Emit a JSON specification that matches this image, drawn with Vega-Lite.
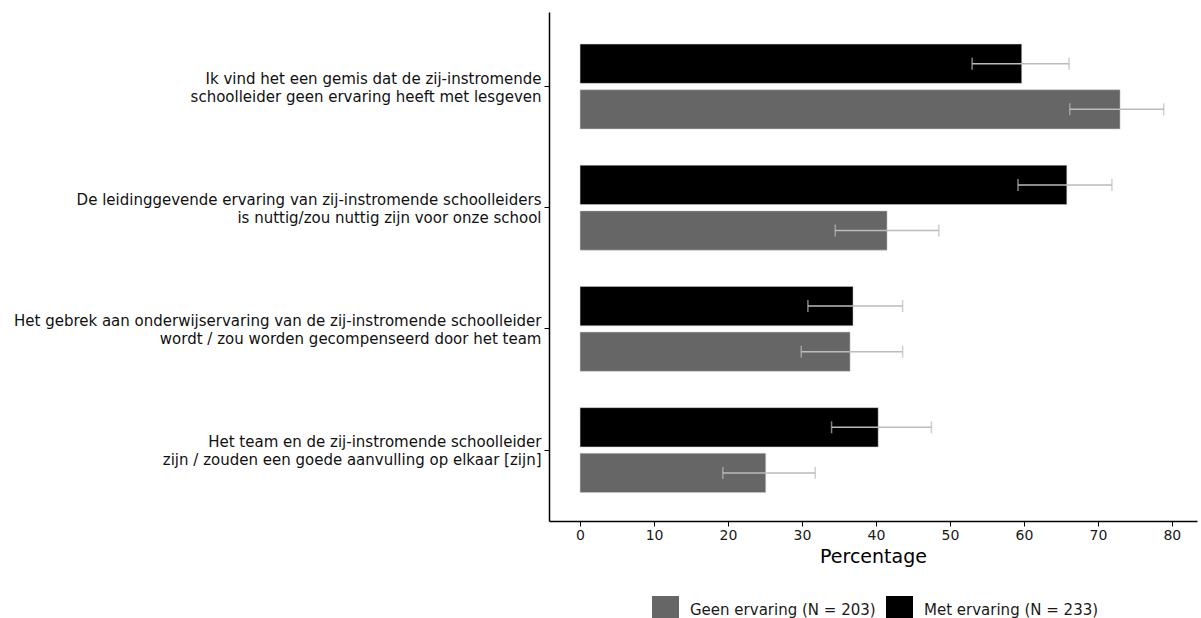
{
  "$schema": "https://vega.github.io/schema/vega-lite/v6.json",
  "width": 648,
  "height": 509,
  "autosize": {"type": "none"},
  "padding": {"left": 549, "top": 12, "right": 4, "bottom": 97},
  "background": "white",
  "config": {
    "font": "DejaVu Sans",
    "view": {"stroke": null}
  },
  "data": {
    "values": [
      {"item": "Ik vind het een gemis dat de zij-instromende|schoolleider geen ervaring heeft met lesgeven", "group": "Met ervaring (N = 233)", "value": 59.7, "lo": 53.0, "hi": 66.1},
      {"item": "Ik vind het een gemis dat de zij-instromende|schoolleider geen ervaring heeft met lesgeven", "group": "Geen ervaring (N = 203)", "value": 73.0, "lo": 66.2, "hi": 78.9},
      {"item": "De leidinggevende ervaring van zij-instromende schoolleiders|is nuttig/zou nuttig zijn voor onze school", "group": "Met ervaring (N = 233)", "value": 65.8, "lo": 59.2, "hi": 71.9},
      {"item": "De leidinggevende ervaring van zij-instromende schoolleiders|is nuttig/zou nuttig zijn voor onze school", "group": "Geen ervaring (N = 203)", "value": 41.5, "lo": 34.5, "hi": 48.5},
      {"item": "Het gebrek aan onderwijservaring van de zij-instromende schoolleider|wordt / zou worden gecompenseerd door het team", "group": "Met ervaring (N = 233)", "value": 36.9, "lo": 30.8, "hi": 43.6},
      {"item": "Het gebrek aan onderwijservaring van de zij-instromende schoolleider|wordt / zou worden gecompenseerd door het team", "group": "Geen ervaring (N = 203)", "value": 36.5, "lo": 29.9, "hi": 43.6},
      {"item": "Het team en de zij-instromende schoolleider|zijn / zouden een goede aanvulling op elkaar [zijn]", "group": "Met ervaring (N = 233)", "value": 40.3, "lo": 34.0, "hi": 47.5},
      {"item": "Het team en de zij-instromende schoolleider|zijn / zouden een goede aanvulling op elkaar [zijn]", "group": "Geen ervaring (N = 203)", "value": 25.1, "lo": 19.3, "hi": 31.8}
    ]
  },
  "encoding": {
    "y": {
      "field": "item",
      "type": "nominal",
      "sort": null,
      "title": null,
      "scale": {"paddingInner": 0.3, "paddingOuter": 0.25, "align": 0.53},
      "axis": {
        "labelExpr": "split(datum.label, '|')",
        "labelFontSize": 15,
        "labelLineHeight": 18,
        "labelLimit": 700,
        "labelColor": "#111111",
        "labelAlign": "right",
        "labelBaseline": "middle",
        "labelOffset": -8,
        "domainColor": "#000000",
        "domainWidth": 1.5,
        "tickColor": "#000000",
        "tickSize": 5,
        "labelPadding": 3
      }
    },
    "yOffset": {
      "field": "group",
      "type": "nominal",
      "scale": {"domain": ["Met ervaring (N = 233)", "Geen ervaring (N = 203)"], "paddingInner": 0.14}
    }
  },
  "layer": [
    {
      "mark": {"type": "bar", "stroke": "#cccccc", "strokeWidth": 0.5},
      "encoding": {
        "x": {
          "field": "value",
          "type": "quantitative",
          "scale": {"domain": [-4.2, 83.4], "nice": false, "zero": false},
          "title": "Percentage",
          "axis": {
            "values": [0, 10, 20, 30, 40, 50, 60, 70, 80],
            "grid": false,
            "labelFontSize": 14,
            "labelColor": "#1a1a1a",
            "titleFontSize": 19,
            "titleFontWeight": "normal",
            "titleColor": "#000000",
            "titlePadding": 5,
            "domainColor": "#000000",
            "domainWidth": 1.5,
            "tickColor": "#000000",
            "tickSize": 5,
            "labelPadding": 2
          }
        },
        "color": {
          "field": "group",
          "type": "nominal",
          "scale": {"domain": ["Geen ervaring (N = 203)", "Met ervaring (N = 233)"], "range": ["#666666", "#000000"]},
          "legend": {
            "title": null,
            "orient": "none",
            "legendX": 103,
            "legendY": 584,
            "direction": "horizontal",
            "columns": 2,
            "symbolType": "square",
            "symbolSize": 729,
            "symbolStrokeWidth": 0,
            "labelFontSize": 15,
            "labelColor": "#1a1a1a",
            "labelOffset": 11,
            "columnPadding": 10,
            "labelLimit": 400
          }
        }
      }
    },
    {
      "mark": {"type": "rule", "color": "#bbbbbb", "strokeWidth": 1.5},
      "encoding": {
        "x": {"field": "lo", "type": "quantitative"},
        "x2": {"field": "hi"}
      }
    },
    {
      "mark": {"type": "tick", "color": "#bbbbbb", "orient": "vertical", "size": 12, "thickness": 1.5},
      "encoding": {
        "x": {"field": "lo", "type": "quantitative"}
      }
    },
    {
      "mark": {"type": "tick", "color": "#bbbbbb", "orient": "vertical", "size": 12, "thickness": 1.5},
      "encoding": {
        "x": {"field": "hi", "type": "quantitative"}
      }
    }
  ]
}
